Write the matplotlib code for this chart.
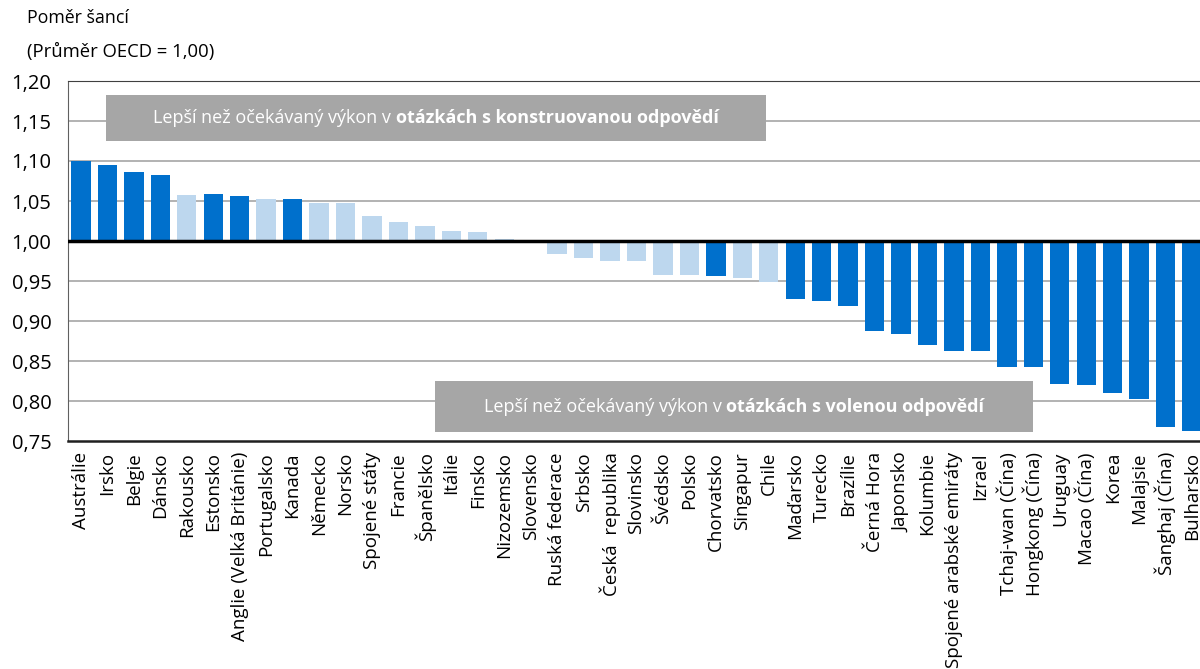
import matplotlib
matplotlib.use("Agg")
import matplotlib.pyplot as plt
from matplotlib.patches import Rectangle

plt.rcParams['font.family'] = ['Open Sans', 'DejaVu Sans']

countries = ["Austrálie", "Irsko", "Belgie", "Dánsko", "Rakousko", "Estonsko",
             "Anglie (Velká Británie)", "Portugalsko", "Kanada", "Německo", "Norsko",
             "Spojené státy", "Francie", "Španělsko", "Itálie", "Finsko", "Nizozemsko",
             "Slovensko", "Ruská federace", "Srbsko", "Česká  republika", "Slovinsko",
             "Švédsko", "Polsko", "Chorvatsko", "Singapur", "Chile", "Maďarsko",
             "Turecko", "Brazílie", "Černá Hora", "Japonsko", "Kolumbie",
             "Spojené arabské emiráty", "Izrael", "Tchaj-wan (Čína)", "Hongkong (Čína)",
             "Uruguay", "Macao (Čína)", "Korea", "Malajsie", "Šanghaj (Čína)", "Bulharsko"]
odds = [1.100, 1.095, 1.086, 1.083, 1.058, 1.059, 1.056, 1.052, 1.052, 1.048, 1.047,
        1.031, 1.024, 1.019, 1.012, 1.011, 1.003, 0.997, 0.984, 0.979, 0.975, 0.975,
        0.957, 0.957, 0.956, 0.954, 0.949, 0.928, 0.925, 0.919, 0.887, 0.884, 0.870,
        0.862, 0.862, 0.842, 0.842, 0.821, 0.820, 0.810, 0.803, 0.767, 0.763]
# 1 = statisticky významné (tmavě modrá), 0 = nevýznamné (světle modrá)
significant = [1, 1, 1, 1, 0, 1, 1, 0, 1, 0, 0, 0, 0, 0, 0, 0, 0, 0, 0, 0, 0, 0,
               0, 0, 1, 0, 0, 1, 1, 1, 1, 1, 1, 1, 1, 1, 1, 1, 1, 1, 1, 1, 1]
yticks = [0.75, 0.80, 0.85, 0.90, 0.95, 1.00, 1.05, 1.10, 1.15, 1.20]
ytick_labels = ["0,75", "0,80", "0,85", "0,90", "0,95", "1,00", "1,05", "1,10", "1,15", "1,20"]
box_top = "Lepší než očekávaný výkon v "
box_top_bold = "otázkách s konstruovanou odpovědí"
box_bottom = "Lepší než očekávaný výkon v "
box_bottom_bold = "otázkách s volenou odpovědí"

dark = "#0070CC"
light = "#BDD7EE"
colors = [dark if s else light for s in significant]

fig = plt.figure(figsize=(12, 6.69), dpi=100)
ax = fig.add_axes([68 / 1200, 1 - 441 / 669, 1 - 68 / 1200, 360 / 669])

x = list(range(len(countries)))
heights = [v - 1.0 for v in odds]
ax.bar(x, heights, bottom=1.0, width=0.73, color=colors, zorder=2)

ax.set_xlim(-0.49, 42.3)
ax.set_ylim(0.75, 1.20)
ax.set_yticks(yticks)
ax.set_yticklabels(ytick_labels, fontsize=14.5)
ax.set_xticks(x)
ax.set_xticklabels(countries, rotation=90, fontsize=13.5, va="top", ha="center")
ax.tick_params(axis="y", length=0, pad=12)
ax.tick_params(axis="x", length=0, pad=8)

for y in yticks[1:-1]:
    if y != 1.00:
        ax.axhline(y, color="#A6A6A6", lw=1.2, zorder=1)
ax.axhline(1.00, color="black", lw=2.5, zorder=3)

ax.spines["right"].set_visible(False)
ax.spines["top"].set_color("#404040")
ax.spines["left"].set_color("#606060")
ax.spines["bottom"].set_color("#202020")
ax.spines["bottom"].set_linewidth(1.8)


def label_box(x0, x1, y0, y1, normal, bold):
    ax.add_patch(Rectangle((x0, y0), x1 - x0, y1 - y0, facecolor="#A6A6A6",
                           edgecolor="none", zorder=4))
    yc = (y0 + y1) / 2
    t1 = ax.text(x0, yc, normal, color="white", fontsize=13, va="center",
                 ha="left", zorder=5)
    t2 = ax.annotate(bold, xy=(1, 0), xycoords=t1, va="bottom", ha="left",
                     color="white", fontsize=13, fontweight="bold", zorder=5)
    fig.canvas.draw()
    r = fig.canvas.get_renderer()
    b1 = t1.get_window_extent(r)
    b2 = t2.get_window_extent(r)
    total = b2.x1 - b1.x0
    cx = ax.transData.transform(((x0 + x1) / 2, yc))[0]
    newx = ax.transData.inverted().transform((cx - total / 2, 0))[0]
    t1.set_x(newx)


label_box(0.945, 25.9, 1.125, 1.1825, box_top, box_top_bold)
label_box(13.38, 35.99, 0.76125, 0.825, box_bottom, box_bottom_bold)

fig.text(27 / 1200, 1 - 18 / 669, "Poměr šancí", fontsize=12.8, va="center", ha="left")
fig.text(27 / 1200, 1 - 52 / 669, "(Průměr OECD = 1,00)", fontsize=13.3, va="center", ha="left")

fig.savefig("out.png", dpi=100)
